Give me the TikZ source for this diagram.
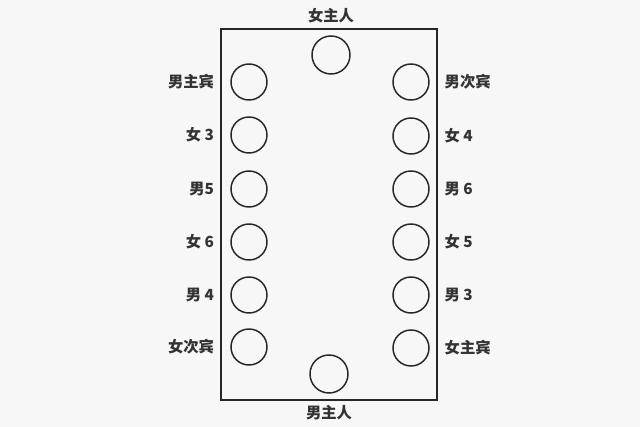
\documentclass[tikz,border=0pt]{standalone}
\usepackage{fontspec}
\newfontfamily\cjk{Noto Sans CJK SC}
\usetikzlibrary{positioning}
\begin{document}
\begin{tikzpicture}[x=0.75pt,y=-0.75pt,
    seat/.style={circle,draw=black!85,line width=1.1pt,minimum size=27pt,inner sep=0pt},
    name tag/.style={font=\cjk\bfseries\fontsize{11.5}{14}\selectfont,text=black!80,inner sep=1pt}]
  \fill[black!3] (0,0) rectangle (640,427);
  \useasboundingbox (0,0) rectangle (640,427);

  % table
  \draw[line width=1.1pt,black!85] (221,29) rectangle (437,400);

  % hosts at the two ends
  \node[seat,minimum size=28.5pt] (hostess) at (331,55) {};
  \node[seat,minimum size=28.5pt] (host) at (329,374) {};
  \node[name tag] (hostess tag) at (331,16) {女主人};
  \node[name tag] (host tag) at (329,413) {男主人};

  % guests along the sides
  \foreach \y/\txt [count=\i] in {82/男主宾, 135/女 3, 189/男5, 242/女 6, 295/男 4, 347/女次宾} {
    \node[seat] (L\i) at (249,\y) {};
    \node[name tag,left=11pt of L\i] (L\i tag) {\txt};
  }
  \foreach \y/\txt [count=\i] in {82/男次宾, 136/女 4, 189/男 6, 242/女 5, 295/男 3, 348/女主宾} {
    \node[seat] (R\i) at (411,\y) {};
    \node[name tag,right=10pt of R\i] (R\i tag) {\txt};
  }
\end{tikzpicture}
\end{document}
